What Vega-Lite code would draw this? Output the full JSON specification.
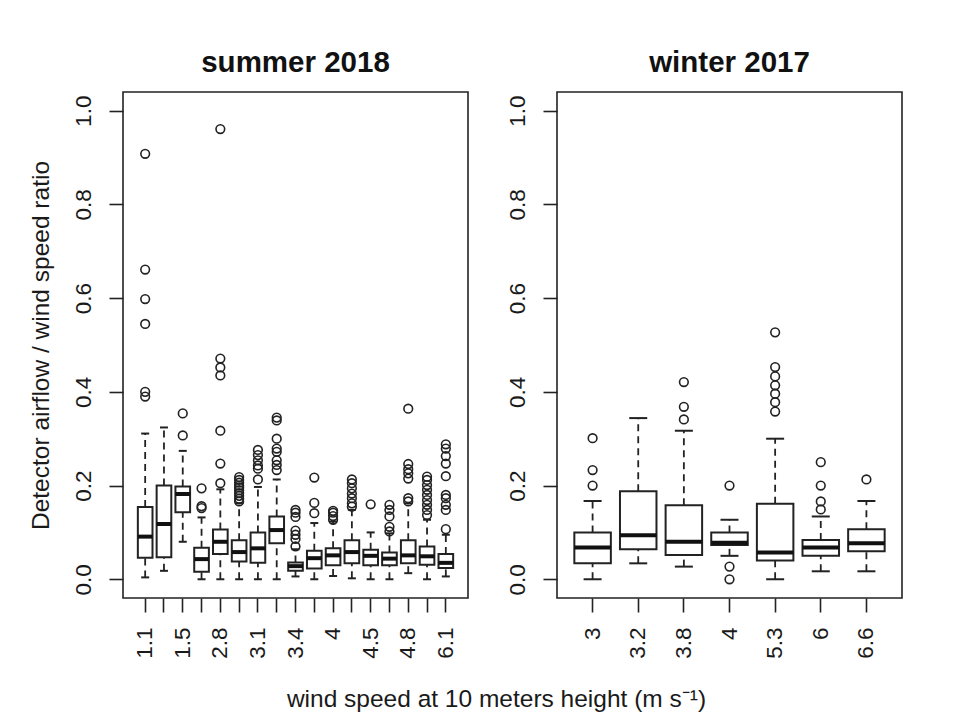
{
  "$schema": "https://vega.github.io/schema/vega-lite/v6.json",
  "autosize": {"type": "none"},
  "padding": {"left": 123, "top": 92, "right": 837, "bottom": 624},
  "background": "white",
  "bounds": "flush",
  "spacing": 89,
  "datasets": {
    "boxes": [
      {"panel": "summer", "ws": "1.1", "lo": 0.004, "q1": 0.046, "med": 0.091, "q3": 0.154, "hi": 0.311},
      {"panel": "summer", "ws": "1.3", "lo": 0.018, "q1": 0.047, "med": 0.118, "q3": 0.200, "hi": 0.324},
      {"panel": "summer", "ws": "1.5", "lo": 0.080, "q1": 0.143, "med": 0.182, "q3": 0.198, "hi": 0.274},
      {"panel": "summer", "ws": "2.5", "lo": 0.0, "q1": 0.016, "med": 0.043, "q3": 0.067, "hi": 0.132},
      {"panel": "summer", "ws": "2.8", "lo": 0.0, "q1": 0.054, "med": 0.080, "q3": 0.106, "hi": 0.192},
      {"panel": "summer", "ws": "3", "lo": 0.0, "q1": 0.038, "med": 0.058, "q3": 0.083, "hi": 0.162},
      {"panel": "summer", "ws": "3.1", "lo": 0.0, "q1": 0.035, "med": 0.066, "q3": 0.100, "hi": 0.197},
      {"panel": "summer", "ws": "3.3", "lo": 0.0, "q1": 0.077, "med": 0.105, "q3": 0.134, "hi": 0.213},
      {"panel": "summer", "ws": "3.4", "lo": 0.006, "q1": 0.018, "med": 0.028, "q3": 0.036, "hi": 0.064},
      {"panel": "summer", "ws": "3.8", "lo": 0.0, "q1": 0.023, "med": 0.045, "q3": 0.061, "hi": 0.120},
      {"panel": "summer", "ws": "4", "lo": 0.007, "q1": 0.030, "med": 0.051, "q3": 0.066, "hi": 0.123},
      {"panel": "summer", "ws": "4.3", "lo": 0.002, "q1": 0.034, "med": 0.058, "q3": 0.083, "hi": 0.148},
      {"panel": "summer", "ws": "4.5", "lo": 0.0, "q1": 0.030, "med": 0.050, "q3": 0.063, "hi": 0.100},
      {"panel": "summer", "ws": "4.6", "lo": 0.0, "q1": 0.030, "med": 0.044, "q3": 0.057, "hi": 0.098},
      {"panel": "summer", "ws": "4.8", "lo": 0.013, "q1": 0.034, "med": 0.051, "q3": 0.083, "hi": 0.162},
      {"panel": "summer", "ws": "5.3", "lo": 0.0, "q1": 0.031, "med": 0.049, "q3": 0.070, "hi": 0.127},
      {"panel": "summer", "ws": "6.1", "lo": 0.006, "q1": 0.024, "med": 0.035, "q3": 0.054, "hi": 0.095},
      {"panel": "winter", "ws": "3", "lo": 0.0, "q1": 0.034, "med": 0.068, "q3": 0.100, "hi": 0.167},
      {"panel": "winter", "ws": "3.2", "lo": 0.034, "q1": 0.064, "med": 0.094, "q3": 0.188, "hi": 0.344},
      {"panel": "winter", "ws": "3.8", "lo": 0.027, "q1": 0.052, "med": 0.080, "q3": 0.158, "hi": 0.317},
      {"panel": "winter", "ws": "4", "lo": 0.050, "q1": 0.073, "med": 0.078, "q3": 0.100, "hi": 0.127},
      {"panel": "winter", "ws": "5.3", "lo": 0.0, "q1": 0.040, "med": 0.057, "q3": 0.161, "hi": 0.300},
      {"panel": "winter", "ws": "6", "lo": 0.017, "q1": 0.050, "med": 0.068, "q3": 0.084, "hi": 0.134},
      {"panel": "winter", "ws": "6.6", "lo": 0.017, "q1": 0.060, "med": 0.077, "q3": 0.107, "hi": 0.167}
    ],
    "outliers": [
      {"panel": "summer", "ws": "1.1", "v": 0.908}, {"panel": "summer", "ws": "1.1", "v": 0.661}, {"panel": "summer", "ws": "1.1", "v": 0.598}, {"panel": "summer", "ws": "1.1", "v": 0.545}, {"panel": "summer", "ws": "1.1", "v": 0.400}, {"panel": "summer", "ws": "1.1", "v": 0.390},
      {"panel": "summer", "ws": "1.5", "v": 0.307}, {"panel": "summer", "ws": "1.5", "v": 0.354},
      {"panel": "summer", "ws": "2.5", "v": 0.152}, {"panel": "summer", "ws": "2.5", "v": 0.156}, {"panel": "summer", "ws": "2.5", "v": 0.194},
      {"panel": "summer", "ws": "2.8", "v": 0.961}, {"panel": "summer", "ws": "2.8", "v": 0.471}, {"panel": "summer", "ws": "2.8", "v": 0.452}, {"panel": "summer", "ws": "2.8", "v": 0.435}, {"panel": "summer", "ws": "2.8", "v": 0.317}, {"panel": "summer", "ws": "2.8", "v": 0.247}, {"panel": "summer", "ws": "2.8", "v": 0.205},
      {"panel": "summer", "ws": "3", "v": 0.166}, {"panel": "summer", "ws": "3", "v": 0.172}, {"panel": "summer", "ws": "3", "v": 0.178}, {"panel": "summer", "ws": "3", "v": 0.184}, {"panel": "summer", "ws": "3", "v": 0.190}, {"panel": "summer", "ws": "3", "v": 0.196}, {"panel": "summer", "ws": "3", "v": 0.200}, {"panel": "summer", "ws": "3", "v": 0.206}, {"panel": "summer", "ws": "3", "v": 0.212}, {"panel": "summer", "ws": "3", "v": 0.218},
      {"panel": "summer", "ws": "3.1", "v": 0.213}, {"panel": "summer", "ws": "3.1", "v": 0.236}, {"panel": "summer", "ws": "3.1", "v": 0.243}, {"panel": "summer", "ws": "3.1", "v": 0.254}, {"panel": "summer", "ws": "3.1", "v": 0.265}, {"panel": "summer", "ws": "3.1", "v": 0.276},
      {"panel": "summer", "ws": "3.3", "v": 0.233}, {"panel": "summer", "ws": "3.3", "v": 0.244}, {"panel": "summer", "ws": "3.3", "v": 0.254}, {"panel": "summer", "ws": "3.3", "v": 0.272}, {"panel": "summer", "ws": "3.3", "v": 0.279}, {"panel": "summer", "ws": "3.3", "v": 0.300}, {"panel": "summer", "ws": "3.3", "v": 0.339}, {"panel": "summer", "ws": "3.3", "v": 0.345},
      {"panel": "summer", "ws": "3.4", "v": 0.070}, {"panel": "summer", "ws": "3.4", "v": 0.086}, {"panel": "summer", "ws": "3.4", "v": 0.095}, {"panel": "summer", "ws": "3.4", "v": 0.104}, {"panel": "summer", "ws": "3.4", "v": 0.133}, {"panel": "summer", "ws": "3.4", "v": 0.142}, {"panel": "summer", "ws": "3.4", "v": 0.148},
      {"panel": "summer", "ws": "3.8", "v": 0.141}, {"panel": "summer", "ws": "3.8", "v": 0.163}, {"panel": "summer", "ws": "3.8", "v": 0.217},
      {"panel": "summer", "ws": "4", "v": 0.127}, {"panel": "summer", "ws": "4", "v": 0.135}, {"panel": "summer", "ws": "4", "v": 0.142}, {"panel": "summer", "ws": "4", "v": 0.146},
      {"panel": "summer", "ws": "4.3", "v": 0.155}, {"panel": "summer", "ws": "4.3", "v": 0.162}, {"panel": "summer", "ws": "4.3", "v": 0.173}, {"panel": "summer", "ws": "4.3", "v": 0.183}, {"panel": "summer", "ws": "4.3", "v": 0.194}, {"panel": "summer", "ws": "4.3", "v": 0.205}, {"panel": "summer", "ws": "4.3", "v": 0.213},
      {"panel": "summer", "ws": "4.5", "v": 0.160},
      {"panel": "summer", "ws": "4.6", "v": 0.102}, {"panel": "summer", "ws": "4.6", "v": 0.112}, {"panel": "summer", "ws": "4.6", "v": 0.134}, {"panel": "summer", "ws": "4.6", "v": 0.148}, {"panel": "summer", "ws": "4.6", "v": 0.159},
      {"panel": "summer", "ws": "4.8", "v": 0.166}, {"panel": "summer", "ws": "4.8", "v": 0.173}, {"panel": "summer", "ws": "4.8", "v": 0.215}, {"panel": "summer", "ws": "4.8", "v": 0.226}, {"panel": "summer", "ws": "4.8", "v": 0.235}, {"panel": "summer", "ws": "4.8", "v": 0.246}, {"panel": "summer", "ws": "4.8", "v": 0.364},
      {"panel": "summer", "ws": "5.3", "v": 0.137}, {"panel": "summer", "ws": "5.3", "v": 0.148}, {"panel": "summer", "ws": "5.3", "v": 0.159}, {"panel": "summer", "ws": "5.3", "v": 0.169}, {"panel": "summer", "ws": "5.3", "v": 0.180}, {"panel": "summer", "ws": "5.3", "v": 0.191}, {"panel": "summer", "ws": "5.3", "v": 0.201}, {"panel": "summer", "ws": "5.3", "v": 0.212}, {"panel": "summer", "ws": "5.3", "v": 0.219},
      {"panel": "summer", "ws": "6.1", "v": 0.107}, {"panel": "summer", "ws": "6.1", "v": 0.148}, {"panel": "summer", "ws": "6.1", "v": 0.159}, {"panel": "summer", "ws": "6.1", "v": 0.173}, {"panel": "summer", "ws": "6.1", "v": 0.180}, {"panel": "summer", "ws": "6.1", "v": 0.220}, {"panel": "summer", "ws": "6.1", "v": 0.247}, {"panel": "summer", "ws": "6.1", "v": 0.263}, {"panel": "summer", "ws": "6.1", "v": 0.279}, {"panel": "summer", "ws": "6.1", "v": 0.288},
      {"panel": "winter", "ws": "3", "v": 0.200}, {"panel": "winter", "ws": "3", "v": 0.233}, {"panel": "winter", "ws": "3", "v": 0.301},
      {"panel": "winter", "ws": "3.8", "v": 0.341}, {"panel": "winter", "ws": "3.8", "v": 0.368}, {"panel": "winter", "ws": "3.8", "v": 0.421},
      {"panel": "winter", "ws": "4", "v": 0.200}, {"panel": "winter", "ws": "4", "v": 0.027}, {"panel": "winter", "ws": "4", "v": 0.0},
      {"panel": "winter", "ws": "5.3", "v": 0.358}, {"panel": "winter", "ws": "5.3", "v": 0.378}, {"panel": "winter", "ws": "5.3", "v": 0.396}, {"panel": "winter", "ws": "5.3", "v": 0.414}, {"panel": "winter", "ws": "5.3", "v": 0.433}, {"panel": "winter", "ws": "5.3", "v": 0.453}, {"panel": "winter", "ws": "5.3", "v": 0.527},
      {"panel": "winter", "ws": "6", "v": 0.149}, {"panel": "winter", "ws": "6", "v": 0.166}, {"panel": "winter", "ws": "6", "v": 0.200}, {"panel": "winter", "ws": "6", "v": 0.250},
      {"panel": "winter", "ws": "6.6", "v": 0.213}
    ]
  },
  "hconcat": [
    {
      "width": 345,
      "height": 506,
      "title": {"text": "summer 2018", "fontSize": 29.5, "fontWeight": "bold", "font": "Liberation Sans", "color": "#111", "offset": -9, "baseline": "alphabetic", "anchor": "middle", "frame": "group"},
      "encoding": {
        "x": {"field": "ws", "type": "nominal",
          "scale": {"domain": ["1.1","1.3","1.5","2.5","2.8","3","3.1","3.3","3.4","3.8","4","4.3","4.5","4.6","4.8","5.3","6.1"], "paddingInner": 0, "paddingOuter": 0.68},
          "axis": {"title": "wind speed at 10 meters height (m s⁻¹)", "titleX": 373, "titleY": 108, "titleBaseline": "alphabetic", "titleAlign": "center", "titleAnchor": null,
            "labelExpr": "indexof(['1.1','1.5','2.8','3.1','3.4','4','4.5','4.8','6.1'], datum.value) >= 0 ? datum.label : ''",
            "labelAngle": 270, "labelAlign": "right", "labelBaseline": "middle", "labelPadding": 15}}
      },
      "layer": [
        {"data": {"name": "boxes"}, "transform": [{"filter": "datum.panel == 'summer'"}],
          "mark": {"type": "rule", "strokeDash": [7, 5], "strokeWidth": 1.8, "color": "#222"},
          "encoding": {"y": {"field": "lo", "type": "quantitative", "scale": {"domain": [-0.04, 1.04], "nice": false, "zero": false},
            "axis": {"title": "Detector airflow / wind speed ratio", "values": [0, 0.2, 0.4, 0.6, 0.8, 1.0], "format": ".1f", "labelAngle": 270, "labelAlign": "center", "labelBaseline": "alphabetic", "labelPadding": 19,
              "titleX": -75, "titleY": 253, "titleAngle": 270, "titleBaseline": "alphabetic", "titleAlign": "center", "titleAnchor": null}},
            "y2": {"field": "q1"}}},
        {"data": {"name": "boxes"}, "transform": [{"filter": "datum.panel == 'summer'"}],
          "mark": {"type": "rule", "strokeDash": [7, 5], "strokeWidth": 1.8, "color": "#222"},
          "encoding": {"y": {"field": "q3", "type": "quantitative", "title": "Detector airflow / wind speed ratio"}, "y2": {"field": "hi"}}},
        {"data": {"name": "boxes"}, "transform": [{"filter": "datum.panel == 'summer'"}],
          "mark": {"type": "tick", "size": 8, "thickness": 2, "color": "#222", "opacity": 1},
          "encoding": {"y": {"field": "lo", "type": "quantitative", "title": "Detector airflow / wind speed ratio"}}},
        {"data": {"name": "boxes"}, "transform": [{"filter": "datum.panel == 'summer'"}],
          "mark": {"type": "tick", "size": 8, "thickness": 2, "color": "#222", "opacity": 1},
          "encoding": {"y": {"field": "hi", "type": "quantitative", "title": "Detector airflow / wind speed ratio"}}},
        {"data": {"name": "boxes"}, "transform": [{"filter": "datum.panel == 'summer'"}],
          "mark": {"type": "bar", "width": {"band": 0.78}, "fill": "white", "stroke": "#222", "strokeWidth": 2, "opacity": 1},
          "encoding": {"y": {"field": "q1", "type": "quantitative", "title": "Detector airflow / wind speed ratio"}, "y2": {"field": "q3"}}},
        {"data": {"name": "boxes"}, "transform": [{"filter": "datum.panel == 'summer'"}],
          "mark": {"type": "tick", "size": 14.7, "thickness": 4, "color": "#111", "opacity": 1},
          "encoding": {"y": {"field": "med", "type": "quantitative", "title": "Detector airflow / wind speed ratio"}}},
        {"data": {"name": "outliers"}, "transform": [{"filter": "datum.panel == 'summer'"}],
          "mark": {"type": "point", "shape": "circle", "filled": false, "size": 75, "strokeWidth": 1.6, "color": "#222", "opacity": 1},
          "encoding": {"y": {"field": "v", "type": "quantitative", "title": "Detector airflow / wind speed ratio"}}}
      ]
    },
    {
      "width": 345,
      "height": 506,
      "title": {"text": "winter 2017", "fontSize": 29.5, "fontWeight": "bold", "font": "Liberation Sans", "color": "#111", "offset": -9, "baseline": "alphabetic", "anchor": "middle", "frame": "group"},
      "encoding": {
        "x": {"field": "ws", "type": "nominal",
          "scale": {"domain": ["3","3.2","3.8","4","5.3","6","6.6"], "paddingInner": 0, "paddingOuter": 0.28},
          "axis": {"title": null, "labelAngle": 270, "labelAlign": "right", "labelBaseline": "middle", "labelPadding": 15}}
      },
      "layer": [
        {"data": {"name": "boxes"}, "transform": [{"filter": "datum.panel == 'winter'"}],
          "mark": {"type": "rule", "strokeDash": [7, 5], "strokeWidth": 1.8, "color": "#222"},
          "encoding": {"y": {"field": "lo", "type": "quantitative", "scale": {"domain": [-0.04, 1.04], "nice": false, "zero": false},
            "axis": {"title": null, "values": [0, 0.2, 0.4, 0.6, 0.8, 1.0], "format": ".1f", "labelAngle": 270, "labelAlign": "center", "labelBaseline": "alphabetic", "labelPadding": 19}},
            "y2": {"field": "q1"}}},
        {"data": {"name": "boxes"}, "transform": [{"filter": "datum.panel == 'winter'"}],
          "mark": {"type": "rule", "strokeDash": [7, 5], "strokeWidth": 1.8, "color": "#222"},
          "encoding": {"y": {"field": "q3", "type": "quantitative", "title": null}, "y2": {"field": "hi"}}},
        {"data": {"name": "boxes"}, "transform": [{"filter": "datum.panel == 'winter'"}],
          "mark": {"type": "tick", "size": 18, "thickness": 2, "color": "#222", "opacity": 1},
          "encoding": {"y": {"field": "lo", "type": "quantitative", "title": null}}},
        {"data": {"name": "boxes"}, "transform": [{"filter": "datum.panel == 'winter'"}],
          "mark": {"type": "tick", "size": 18, "thickness": 2, "color": "#222", "opacity": 1},
          "encoding": {"y": {"field": "hi", "type": "quantitative", "title": null}}},
        {"data": {"name": "boxes"}, "transform": [{"filter": "datum.panel == 'winter'"}],
          "mark": {"type": "bar", "width": {"band": 0.8}, "fill": "white", "stroke": "#222", "strokeWidth": 2, "opacity": 1},
          "encoding": {"y": {"field": "q1", "type": "quantitative", "title": null}, "y2": {"field": "q3"}}},
        {"data": {"name": "boxes"}, "transform": [{"filter": "datum.panel == 'winter'"}],
          "mark": {"type": "tick", "size": 36.5, "thickness": 4, "color": "#111", "opacity": 1},
          "encoding": {"y": {"field": "med", "type": "quantitative", "title": null}}},
        {"data": {"name": "outliers"}, "transform": [{"filter": "datum.panel == 'winter'"}],
          "mark": {"type": "point", "shape": "circle", "filled": false, "size": 75, "strokeWidth": 1.6, "color": "#222", "opacity": 1},
          "encoding": {"y": {"field": "v", "type": "quantitative", "title": null}}}
      ]
    }
  ],
  "config": {
    "font": "Liberation Sans",
    "view": {"stroke": "#222", "strokeWidth": 1.6},
    "axis": {"domain": false, "grid": false, "ticks": true, "tickColor": "#222", "tickSize": 14, "tickWidth": 1.6,
      "labelFont": "Liberation Sans", "labelFontSize": 22.5, "labelColor": "#1a1a1a", "labelOverlap": false,
      "titleFont": "Liberation Sans", "titleFontSize": 24.5, "titleColor": "#1a1a1a", "titleFontWeight": "normal"}
  }
}
